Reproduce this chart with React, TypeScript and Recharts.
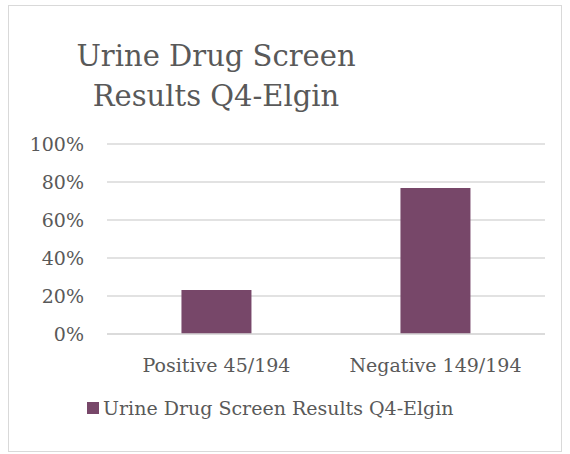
import React from 'react';
import { BarChart, Bar, XAxis, YAxis, CartesianGrid } from 'recharts';

const categories = ['Positive 45/194', 'Negative 149/194'];
const shares = [45 / 194, 149 / 194];
const yTicks = [0, 0.2, 0.4, 0.6, 0.8, 1];
const seriesName = 'Urine Drug Screen Results Q4-Elgin';

const FONT = '"DejaVu Serif", Georgia, serif';
const TEXT = '#595959';
const BAR = '#774769';

const data = categories.map((c, i) => ({ name: c, value: shares[i] }));

export default function App() {
    return (
        <div style={{ position: 'absolute', left: 0, top: 0, width: 570, height: 454, background: '#fff' }}>
            <div
                style={{
                    position: 'absolute',
                    left: 8,
                    top: 5,
                    width: 552,
                    height: 445,
                    border: '1px solid #d9d9d9',
                }}
            />
            <div
                style={{
                    position: 'absolute',
                    left: 0,
                    width: 432,
                    top: 36,
                    textAlign: 'center',
                    fontFamily: FONT,
                    fontSize: 29,
                    lineHeight: '40px',
                    color: TEXT,
                }}
            >
                Urine Drug Screen
                <br />
                Results Q4-Elgin
            </div>
            <BarChart
                width={570}
                height={454}
                data={data}
                margin={{ top: 144, right: 25, bottom: 0, left: 0 }}
                barCategoryGap="34%"
                style={{ position: 'absolute', left: 0, top: 0 }}
            >
                <CartesianGrid vertical={false} stroke="#d9d9d9" strokeWidth={1.5} />
                <XAxis
                    dataKey="name"
                    axisLine={{ stroke: '#d9d9d9', strokeWidth: 1.5 }}
                    tickLine={false}
                    tickSize={0}
                    tickMargin={25}
                    height={120}
                    tick={{ fontFamily: FONT, fontSize: 19, fill: TEXT }}
                />
                <YAxis
                    domain={[0, 1]}
                    ticks={yTicks}
                    width={107}
                    axisLine={false}
                    tickLine={false}
                    tickSize={0}
                    tickMargin={23}
                    tickFormatter={(v: number) => `${Math.round(v * 100)}%`}
                    tick={{ fontFamily: FONT, fontSize: 19, fill: TEXT }}
                />
                <Bar dataKey="value" name={seriesName} fill={BAR} isAnimationActive={false} />
            </BarChart>
            <div
                style={{
                    position: 'absolute',
                    left: 87,
                    top: 395,
                    display: 'flex',
                    alignItems: 'center',
                    fontFamily: FONT,
                    fontSize: 19,
                    color: TEXT,
                    lineHeight: '26px',
                }}
            >
                <span style={{ width: 12, height: 12, background: BAR, display: 'inline-block', marginRight: 4 }} />
                <span>{seriesName}</span>
            </div>
        </div>
    );
}
